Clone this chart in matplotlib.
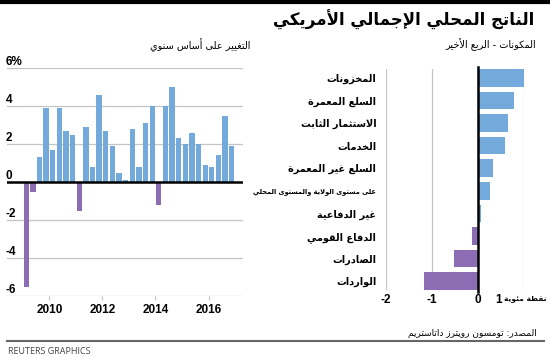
import numpy as np
import matplotlib
matplotlib.use('Agg')
import matplotlib.pyplot as plt

# --- Data ---
quarters = np.arange(2009.125, 2017.0, 0.25)  # 2009 Q1 .. 2016 Q4
gdp_change = [-5.5, -0.5, 1.3, 3.9, 1.7, 3.9, 2.7, 2.5,
              -1.5, 2.9, 0.8, 4.6, 2.7, 1.9, 0.5, 0.1,
              2.8, 0.8, 3.1, 4.0, -1.2, 4.0, 5.0, 2.3,
              2.0, 2.6, 2.0, 0.9, 0.8, 1.4, 3.5, 1.9]
year_ticks = [2010, 2012, 2014, 2016]
left_yticks = [6, 4, 2, 0, -2, -4, -6]

components = ['المخزونات', 'السلع المعمرة', 'الاستثمار الثابت', 'الخدمات',
              'السلع غير المعمرة', 'على مستوى الولاية والمستوى المحلي',
              'غير الدفاعية', 'الدفاع القومي', 'الصادرات', 'الواردات']
contrib = [1.0, 0.78, 0.66, 0.58, 0.32, 0.27, 0.06, -0.14, -0.53, -1.17]
right_xticks = [-2, -1, 0, 1]

BLUE = '#74a9dc'
PURPLE = '#8c6db4'
GRID = '#c4c4c4'

# --- Simple Arabic shaping (presentation forms) + RTL reversal ---
ISO = {'ئ': 0xFE89, 'ب': 0xFE8F, 'ت': 0xFE95, 'ث': 0xFE99, 'ج': 0xFE9D,
       'ح': 0xFEA1, 'خ': 0xFEA5, 'س': 0xFEB1, 'ش': 0xFEB5, 'ص': 0xFEB9,
       'ض': 0xFEBD, 'ط': 0xFEC1, 'ظ': 0xFEC5, 'ع': 0xFEC9, 'غ': 0xFECD,
       'ف': 0xFED1, 'ق': 0xFED5, 'ك': 0xFED9, 'ل': 0xFEDD, 'م': 0xFEE1,
       'ن': 0xFEE5, 'ه': 0xFEE9, 'ي': 0xFEF1,
       'آ': 0xFE81, 'أ': 0xFE83, 'ؤ': 0xFE85, 'إ': 0xFE87, 'ا': 0xFE8D,
       'ة': 0xFE93, 'د': 0xFEA9, 'ذ': 0xFEAB, 'ر': 0xFEAD, 'ز': 0xFEAF,
       'و': 0xFEED, 'ى': 0xFEEF, 'ء': 0xFE80,
       'لآ': 0xFEF5, 'لأ': 0xFEF7, 'لإ': 0xFEF9, 'لا': 0xFEFB}
DUAL = set('ئبتثجحخسشصضطظعغفقكلمنهي')


def ar(s):
    chars = []
    i = 0
    while i < len(s):
        if s[i] == 'ل' and i + 1 < len(s) and s[i + 1] in 'آأإا':
            chars.append(s[i:i + 2])
            i += 2
        else:
            chars.append(s[i])
            i += 1
    out = []
    for k, c in enumerate(chars):
        if c not in ISO:
            out.append(c)
            continue
        prev = chars[k - 1] if k > 0 else ''
        nxt = chars[k + 1] if k + 1 < len(chars) else ''
        p = prev in DUAL and c != 'ء'
        n = c in DUAL and nxt in ISO and nxt != 'ء'
        off = 3 if (p and n) else 1 if p else 2 if n else 0
        out.append(chr(ISO[c] + off))
    return ''.join(out)[::-1]


plt.rcParams['font.family'] = ['Liberation Sans', 'DejaVu Sans']
AR = ['DejaVu Sans']

W, H = 550, 357
fig = plt.figure(figsize=(W / 100, H / 100), dpi=100)


def fx(px):
    return px / W


def fy(py):
    return 1 - py / H


# --- Header / footer ---
fig.add_artist(plt.Line2D([0, 1], [fy(1.5), fy(1.5)], color='black', lw=3))
fig.text(fx(534), fy(20), ar('الناتج المحلي الإجمالي الأمريكي'), ha='right', va='center',
         fontsize=12, fontweight='bold', family=AR)
fig.text(fx(250), fy(45), ar('التغيير على أساس سنوي'), ha='right', va='center',
         fontsize=7, family=AR)
fig.text(fx(536), fy(45), ar('المكونات - الربع الأخير'), ha='right', va='center',
         fontsize=7, family=AR)
fig.text(fx(537), fy(333), ar('المصدر: تومسون رويترز داتاستريم'), ha='right', va='center',
         fontsize=6.5, family=AR)
fig.add_artist(plt.Line2D([fx(7), fx(544)], [fy(340.5), fy(340.5)], color='#666666', lw=1.5))
fig.text(fx(8), fy(351), 'REUTERS GRAPHICS', ha='left', va='center', fontsize=6.5,
         color='#444444', family=['Open Sans'])

# --- Left chart: annual change ---
ax1 = fig.add_axes([fx(7), fy(296), fx(243 - 7), (296 - 68) / H])
colors = [BLUE if v >= 0 else PURPLE for v in gdp_change]
ax1.bar(quarters, gdp_change, width=0.2, color=colors, zorder=2)
ax1.set_xlim(2008.4, 2017.3)
ax1.set_ylim(-6, 6)
for v in left_yticks:
    if v == 0:
        ax1.axhline(0, color='black', lw=1.8, zorder=3)
    else:
        ax1.axhline(v, color=GRID, lw=0.9, zorder=1)
    label = '6%' if v == 6 else str(v)
    ax1.text(-0.005, v, label, transform=ax1.get_yaxis_transform(), ha='left', va='bottom',
             fontsize=8.5, fontweight='bold')
for s in ax1.spines.values():
    s.set_visible(False)
ax1.set_yticks([])
ax1.set_xticks(year_ticks)
ax1.set_xticklabels([str(y) for y in year_ticks], fontsize=8.5, fontweight='bold')
ax1.tick_params(axis='x', length=3, width=0.8, color=GRID, pad=3)

# --- Right chart: components ---
ax2 = fig.add_axes([fx(386), fy(290), fx(524 - 386), (290 - 69) / H])
pos = np.arange(len(components))
ccolors = [BLUE if v >= 0 else PURPLE for v in contrib]
ax2.barh(pos, contrib, height=0.78, color=ccolors, zorder=2)
ax2.set_xlim(-2, 1)
ax2.set_ylim(len(components) - 1 + 0.39, -0.39)
for v in right_xticks:
    if v == 0:
        ax2.axvline(0, ymin=-0.01, ymax=1.01, color='black', lw=1.8, zorder=3, clip_on=False)
    else:
        ax2.axvline(v, color=GRID, lw=0.9, zorder=1)
for s in ax2.spines.values():
    s.set_visible(False)
ax2.set_yticks(pos)
ax2.set_yticklabels([ar(c) for c in components], family=AR, fontsize=7, fontweight='bold')
ax2.get_yticklabels()[5].set_fontsize(4.8)
ax2.tick_params(axis='y', length=0, pad=7)
ax2.set_xticks(right_xticks)
ax2.set_xticklabels(['-2', '-1', '0', ''], fontsize=8.5, fontweight='bold')
ax2.tick_params(axis='x', length=0, pad=3)
# unit label for the "1" tick, kept inside the figure edge
ax2.text(0.38, -0.018, '1', transform=ax2.get_xaxis_transform(),
         ha='left', va='top', fontsize=8.5, fontweight='bold', clip_on=False)
fig.text(fx(547), fy(298.5), ar('نقطة مئوية'), ha='right', va='center',
         fontsize=5.4, fontweight='bold', family=AR)

fig.savefig('out.png', dpi=100)
